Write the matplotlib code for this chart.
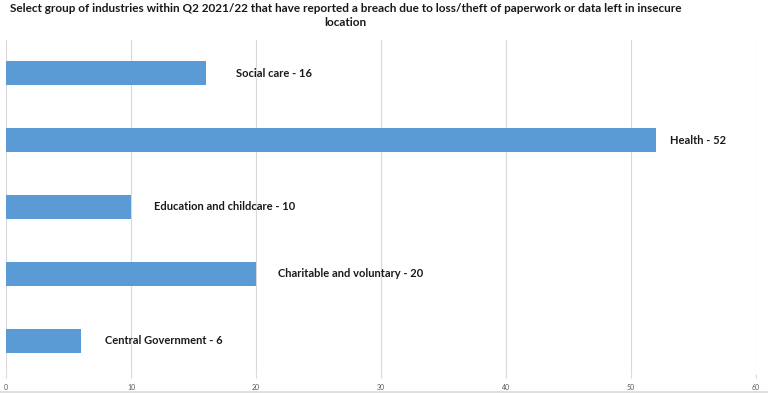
import matplotlib.pyplot as plt

# data
industries = ["Social care", "Health", "Education and childcare",
              "Charitable and voluntary", "Central Government"]
breaches = [16, 52, 10, 20, 6]
label_x = [18.4, 53.1, 11.8, 21.8, 7.9]   # where each data label starts
xticks = [0, 10, 20, 30, 40, 50, 60]

title_1 = "Select group of industries within Q2 2021/22 that have reported a breach due to loss/theft of paperwork or data left in insecure"
title_2 = "location"

plt.rcParams['font.family'] = ['Lato', 'DejaVu Sans']

fig = plt.figure(figsize=(7.68, 3.94), dpi=100)
ax = fig.add_axes([6/768, 1 - 374/394, 750/768, 334/394])

pos = list(range(len(industries)))
ax.barh(pos, breaches, height=0.36, color="#5B9BD5", zorder=2)
for p, v, name, lx in zip(pos, breaches, industries, label_x):
    ax.text(lx, p, f"{name} - {v}", va="center", ha="left",
            fontsize=8, fontweight="bold", color="#1a1a1a")

ax.set_xlim(0, 60)
ax.set_ylim(len(industries) - 0.5, -0.5)
ax.set_xticks(xticks)
ax.set_yticks([])
ax.xaxis.grid(True, color="#d9d9d9", linewidth=0.8, zorder=0)
ax.tick_params(axis="x", length=3, color="#d9d9d9", labelsize=5,
               labelcolor="#595959", pad=4)
for s in ax.spines.values():
    s.set_visible(False)

fig.text(10/768, 1 - 9/394, title_1, ha="left", va="center",
         fontsize=8.45, fontweight="bold", color="#1a1a1a")
fig.text(345/768, 1 - 23/394, title_2, ha="center", va="center",
         fontsize=8.45, fontweight="bold", color="#1a1a1a")

# faint frame line at the bottom of the image
fig.add_artist(plt.Line2D([0, 1], [2/394, 2/394], color="#e0e0e0",
                          linewidth=1.5, transform=fig.transFigure))

fig.savefig("out.png", dpi=100)
